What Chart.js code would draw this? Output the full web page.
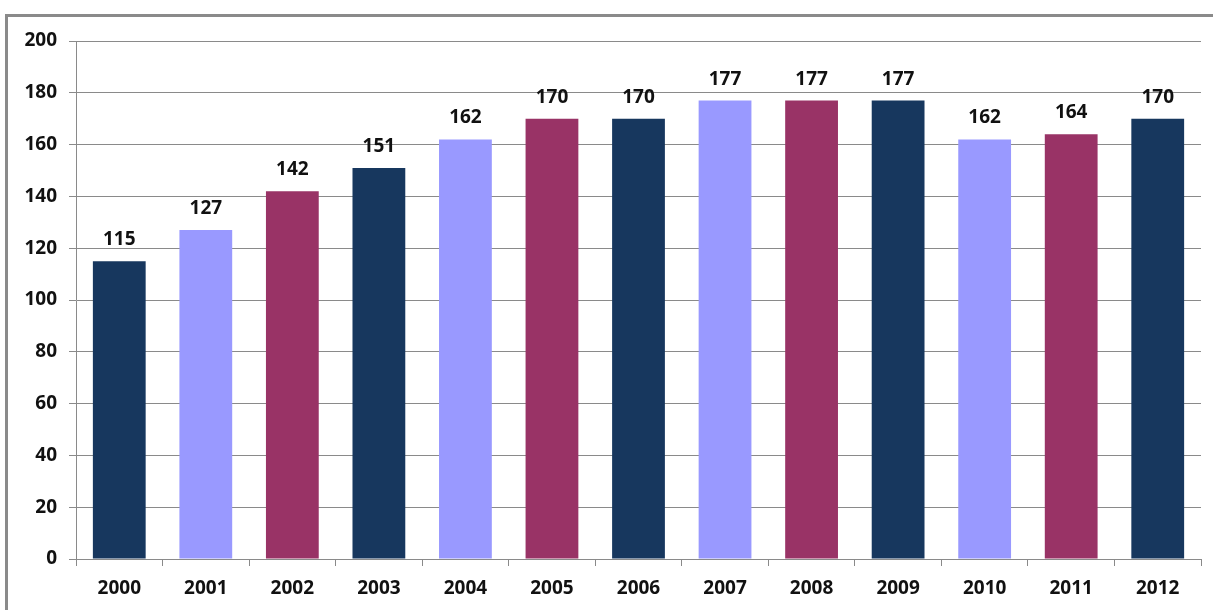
<!DOCTYPE html>
<html>
<head>
<meta charset="utf-8">
<script src="https://cdn.jsdelivr.net/npm/chart.js@4/dist/chart.umd.min.js"></script>
<style>
  html, body { margin: 0; padding: 0; background: #fff; }
  #wrap { position: relative; width: 1213px; height: 610px; overflow: hidden; }
  #frame { position: absolute; left: 5px; top: 14px; width: 1212px; height: 700px; border: 3px solid #8a8a8a; box-sizing: border-box; }
  #chart { position: absolute; left: 0; top: 0; }
</style>
</head>
<body>
<div id="wrap">
  <div id="frame"></div>
  <canvas id="chart" width="1213" height="610"></canvas>
</div>
<script>
// Chart data
const years = ['2000', '2001', '2002', '2003', '2004', '2005', '2006', '2007', '2008', '2009', '2010', '2011', '2012'];
const values = [115, 127, 142, 151, 162, 170, 170, 177, 177, 177, 162, 164, 170];
const yTicks = [0, 20, 40, 60, 80, 100, 120, 140, 160, 180, 200];
const palette = ['#17375E', '#9999FF', '#993366'];

const fontFamily = '"Open Sans", "Liberation Sans", sans-serif';

/**
 * Draws the value above each bar
 */
const valueLabels = {
    id: 'valueLabels',
    afterDatasetsDraw(chart) {
        const ctx = chart.ctx;
        const meta = chart.getDatasetMeta(0);
        ctx.save();
        ctx.font = '700 19px ' + fontFamily;
        ctx.fillStyle = '#111';
        ctx.textAlign = 'center';
        ctx.textBaseline = 'alphabetic';
        meta.data.forEach((bar, i) => {
            ctx.fillText(values[i], bar.x, bar.y - 16);
        });
        ctx.restore();
    }
};

const ctx = document.getElementById('chart').getContext('2d');
new Chart(ctx, {
    type: 'bar',
    data: {
        labels: years,
        datasets: [{
            data: values,
            backgroundColor: years.map((y, i) => palette[i % palette.length]),
            borderWidth: 0,
            categoryPercentage: 1,
            barPercentage: 0.61
        }]
    },
    options: {
        responsive: false,
        animation: false,
        layout: { padding: { left: 0, top: 41, right: 12, bottom: 0 } },
        plugins: {
            legend: { display: false },
            tooltip: { enabled: false }
        },
        scales: {
            x: {
                grid: {
                    offset: true,
                    drawOnChartArea: false,
                    drawTicks: true,
                    tickLength: 7,
                    color: '#8a8a8a'
                },
                border: { color: '#8a8a8a', width: 1 },
                ticks: {
                    color: '#111',
                    padding: 11,
                    font: { family: fontFamily, size: 19, weight: '700' }
                },
                afterFit(scale) { scale.height = 51; }
            },
            y: {
                min: 0,
                max: 200,
                afterBuildTicks(scale) { scale.ticks = yTicks.map(v => ({ value: v })); },
                grid: {
                    color: '#8a8a8a',
                    tickLength: 7
                },
                border: { color: '#8a8a8a', width: 1 },
                ticks: {
                    color: '#111',
                    padding: 12,
                    font: { family: fontFamily, size: 19, weight: '700' }
                },
                afterFit(scale) { scale.width = 76; }
            }
        }
    },
    plugins: [valueLabels]
});
</script>
</body>
</html>
